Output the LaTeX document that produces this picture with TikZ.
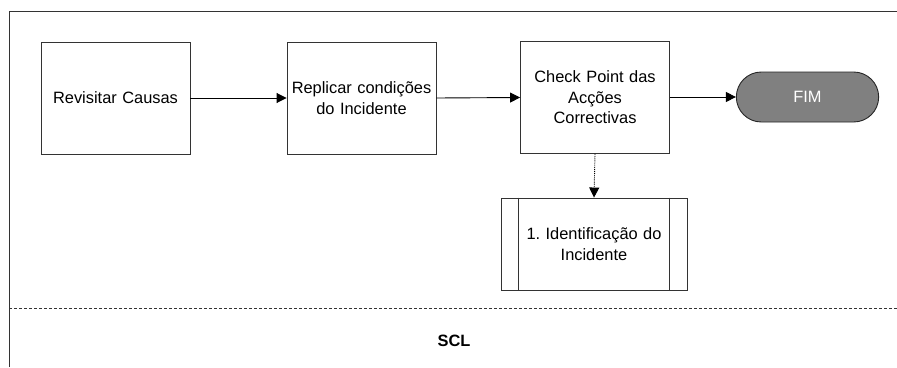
\documentclass[tikz,border=0pt]{standalone}
\usepackage{fontspec}
\setmainfont{Liberation Sans}
\usetikzlibrary{arrows.meta,shapes.misc}
\frenchspacing
\begin{document}
\begin{tikzpicture}[x=1pt,y=-1pt,
  every node/.style={font=\fontsize{16.4}{20.5}\selectfont},
  proc/.style={draw=black!80,line width=0.9pt,minimum width=149pt,minimum height=112pt,align=center,inner sep=2pt,text width=140pt},
  term/.style={draw=black!85,line width=0.9pt,fill=black!50,text=white,rounded rectangle,minimum width=149pt,minimum height=50pt},
  flow/.style={line width=0.9pt,-{Triangle[length=10pt,width=10pt]}},
  lane/.style={line width=0.9pt,black!80}]
\useasboundingbox (0,0) rectangle (897,367);
% lane frame
\coordinate (tl) at (9,11);
\coordinate (tr) at (897,11);
\coordinate (bl) at (9,367);
\coordinate (dl) at (9,308);
\coordinate (dr) at (897,308);
\draw[lane] (bl) -- (tl) -- (tr);
\draw[lane,dashed,dash pattern=on 3pt off 2pt,line width=0.7pt] (dl) -- (dr);
% nodes
\node[proc] (a) at (115.5,98) {Revisitar Causas};
\node[proc] (b) at (361.5,98) {Replicar condições\\do Incidente};
\node[proc] (c) at (595,97.5) {Check Point das\\Acções\\Correctivas};
\node[term] (d) at (807.5,97) {FIM};
\node[draw=black!80,line width=0.9pt,minimum width=186pt,minimum height=92pt,align=center,text width=150pt] (e) at (594,244) {1. Identificação do\\Incidente};
\draw[line width=0.9pt,black!80] ([xshift=18pt]e.north west) -- ([xshift=18pt]e.south west);
\draw[line width=0.9pt,black!80] ([xshift=-18pt]e.north east) -- ([xshift=-18pt]e.south east);
\node[font=\bfseries\fontsize{16.4}{20}\selectfont] (scl) at (454,341) {SCL};
% connectors
\draw[flow] (a.east) -- (b.west);
\draw[flow] (b.east) -- (c.west);
\draw[flow] (c.east |- d.west) -- (d.west);
\draw[flow,densely dotted] (c.south) -- (e.north);
\end{tikzpicture}
\end{document}
